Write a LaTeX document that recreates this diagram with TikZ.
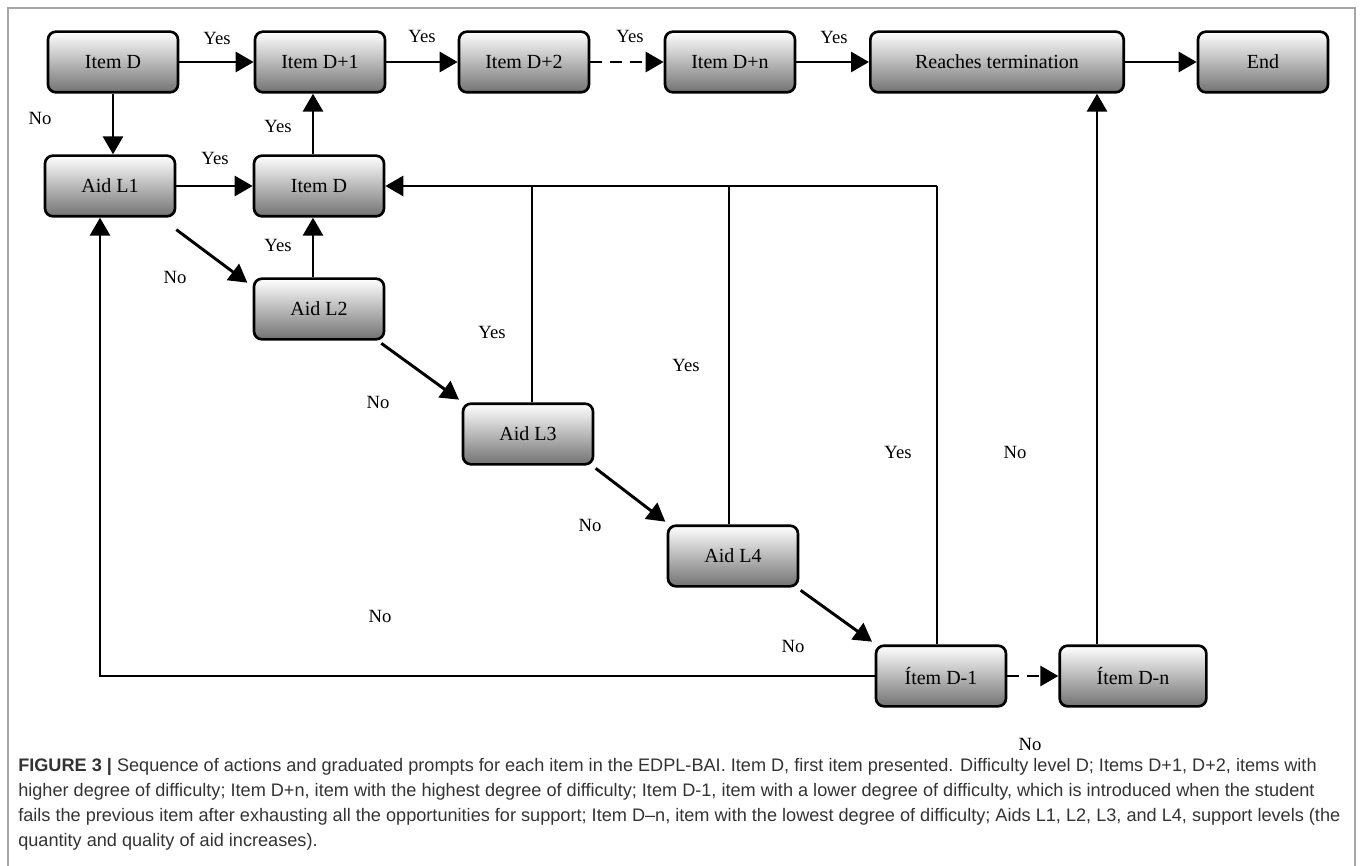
\documentclass[tikz,border=0pt]{standalone}
\usepackage{fontspec}
\setmainfont{Liberation Serif}
\newfontfamily\capfont{Liberation Sans}
\usetikzlibrary{arrows.meta}

\begin{document}
\begin{tikzpicture}
        [
            x=0.75pt, y=-0.75pt,
            box/.style={rectangle, rounded corners=6pt, draw=black, line width=2pt, top color=white, bottom color=black!55, minimum width=97.5pt, minimum height=45.5pt, font=\fontsize{15}{17}\selectfont},
            arr/.style={line width=2.2pt, -{Triangle[length=13.5pt,width=15pt]}},
            fb/.style={line width=1.5pt},
            lab/.style={font=\fontsize{14}{16}\selectfont},
        ]
        \useasboundingbox (0,0) rectangle (1360,866);
        \draw[gray!70, line width=1.2pt] (8,880) -- (8,8) -- (1355,8) -- (1355,880);

        % items along the top
        \node[box] (itemD) at (113,62) {Item D};
        \node[box] (itemP1) at (320,62) {Item D+1};
        \node[box] (itemP2) at (524,62) {Item D+2};
        \node[box] (itemPn) at (730,62) {Item D+n};
        \node[box, minimum width=190pt] (reach) at (997,62) {Reaches termination};
        \node[box] (finish) at (1263,62) {End};
        % aids
        \node[box] (aid1) at (110,186) {Aid L1};
        \node[box] (retry) at (319,186) {Item D};
        \node[box] (aid2) at (319,309) {Aid L2};
        \node[box] (aid3) at (528,434) {Aid L3};
        \node[box] (aid4) at (733,556) {Aid L4};
        \node[box] (itemM1) at (941,676) {Ítem D-1};
        \node[box, minimum width=110pt] (itemMn) at (1133,676) {Ítem D-n};

        \draw[arr] (itemD.east) -- (itemP1.west);
        \draw[arr] (itemP1.east) -- (itemP2.west);
        \draw[arr, dashed, dash pattern=on 9pt off 6pt] (itemP2.east) -- (itemPn.west);
        \draw[arr] (itemPn.east) -- (reach.west);
        \draw[arr] (reach.east) -- (finish.west);
        \draw[arr] (itemD.south) -- (itemD.south |- aid1.north);
        \draw[arr] (aid1.east) -- (retry.west);
        \draw[arr] ([xshift=-4.5pt]retry.north) -- ([xshift=-4.5pt]retry.north |- itemP1.south);
        \draw[arr] ([xshift=-4.5pt]aid2.north) -- ([xshift=-4.5pt]retry.south);

        % going down the aid levels
        \draw[arr] ([yshift=-9pt]aid1.south east) -- ([shift={(-4pt,-4pt)}]aid2.north west);
        \draw[arr] ([shift={(-3pt,-2pt)}]aid2.south east) -- ([shift={(-2pt,2pt)}]aid3.north west);
        \draw[arr] ([shift={(1pt,-2pt)}]aid3.south east) -- ([shift={(-1pt,2pt)}]aid4.north west);
        \draw[arr] ([shift={(1pt,-2pt)}]aid4.south east) -- ([shift={(-2pt,2pt)}]itemM1.north west);

        % back to item D
        \draw[fb] ([xshift=3pt]aid3.north) -- ([xshift=3pt]aid3.north |- retry.east);
        \draw[fb] ([xshift=-3pt]aid4.north) -- ([xshift=-3pt]aid4.north |- retry.east);
        \draw[fb] ([xshift=-3pt]itemM1.north) -- ([xshift=-3pt]itemM1.north |- retry.east);
        \draw[arr] ([xshift=-3pt]itemM1.north |- retry.east) -- (retry.east);

        \draw[arr] (itemM1.west) -| ([xshift=-7.5pt]aid1.south);
        \draw[arr, dashed, dash pattern=on 9pt off 6pt] (itemM1.east) -- (itemMn.west);
        \draw[arr] ([xshift=-27pt]itemMn.north) -- ([xshift=-27pt]itemMn.north |- reach.south);

        % labels
        \node[lab] (y1) at (217,38) {Yes};
        \node[lab] (y2) at (422,36) {Yes};
        \node[lab] (y3) at (630,36) {Yes};
        \node[lab] (y4) at (834,37) {Yes};
        \node[lab] (y5) at (278,126) {Yes};
        \node[lab] (y6) at (215,158) {Yes};
        \node[lab] (y7) at (278,245) {Yes};
        \node[lab] (y8) at (492,332) {Yes};
        \node[lab] (y9) at (686,365) {Yes};
        \node[lab] (y10) at (898,452) {Yes};
        \node[lab] (n1) at (40,118) {No};
        \node[lab] (n2) at (175,277) {No};
        \node[lab] (n3) at (378,402) {No};
        \node[lab] (n4) at (590,525) {No};
        \node[lab] (n5) at (793,646) {No};
        \node[lab] (n6) at (380,616) {No};
        \node[lab] (n7) at (1030,744) {No};
        \node[lab] (n8) at (1015,452) {No};

        \node[anchor=north west, align=left, inner sep=0pt, text=black!80, font=\capfont\fontsize{13.6}{18.75}\selectfont] (caption) at (18,758)
            {\textbf{FIGURE 3 |} Sequence of actions and graduated prompts for each item in the EDPL-BAI. Item D, first item presented. Difficulty level D; Items D+1, D+2, items with\\
            higher degree of difficulty; Item D+n, item with the highest degree of difficulty; Item D-1, item with a lower degree of difficulty, which is introduced when the student\\
            fails the previous item after exhausting all the opportunities for support; Item D–n, item with the lowest degree of difficulty; Aids L1, L2, L3, and L4, support levels (the\\
            quantity and quality of aid increases).};
      \end{tikzpicture}
\end{document}
